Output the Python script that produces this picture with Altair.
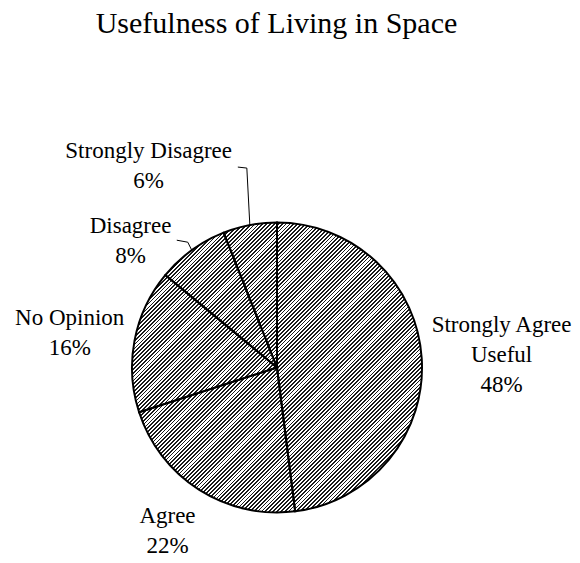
import altair as alt
import pandas as pd

# ---------------- data ----------------
TITLE = "Usefulness of Living in Space"
categories = ["Strongly Agree Useful", "Agree", "No Opinion", "Disagree", "Strongly Disagree"]
label_lines = [["Strongly Agree", "Useful"], ["Agree"], ["No Opinion"], ["Disagree"], ["Strongly Disagree"]]
percents = [48, 22, 16, 8, 6]

df = pd.DataFrame({
    "category": categories,
    "percent": percents,
    "order": list(range(len(categories))),
    "label": ["\n".join(lines + [f"{p}%"]) for lines, p in zip(label_lines, percents)],
})

# ---------------- layout / style ----------------
W, H, PAD_TOP = 564, 487, 60
CX, CY, R = 269, 299.5, 145
LABEL_R = 210
FONT = "Liberation Serif"
INK, PAPER = "#1a1a1a", "#ffffff"

# per-label nudges (dx, dy) from the mid-angle position (first line anchor)
LABEL_NUDGE = {
    "Strongly Agree Useful": (15, -29),
    "Agree": (3, -29),
    "No Opinion": (-1, -10),
    "Disagree": (-23, 28),
    "Strongly Disagree": (-89, -10),
}
# leader lines: (kink offset from slice edge, end offset from kink)
LEADERS = {
    "Disagree": ((-4, -8), (-11, -2)),
    "Strongly Disagree": ((-3, -57), (-9, -1)),
}

# hatch pattern as a striped linear gradient
N_STRIPES, DARK = 150, 0.45
stops = []
for i in range(N_STRIPES):
    a = round(i / N_STRIPES, 6)
    b = round((i + DARK) / N_STRIPES, 6)
    c = round((i + 1) / N_STRIPES, 6)
    stops += [
        alt.GradientStop(color=INK, offset=a),
        alt.GradientStop(color=INK, offset=b),
        alt.GradientStop(color=PAPER, offset=b),
        alt.GradientStop(color=PAPER, offset=c),
    ]
hatch = alt.LinearGradient(gradient="linear", stops=stops, x1=0, y1=0, x2=1, y2=1)

base = alt.Chart(df)
center = dict(x=alt.value(CX), y=alt.value(CY))

disc = base.transform_aggregate(total="sum(percent)").mark_arc(
    fill=hatch, outerRadius=R, strokeWidth=0
).encode(theta=alt.Theta("total:Q"), **center)

slices = base.mark_arc(
    outerRadius=R, fillOpacity=0, stroke="black", strokeWidth=2
).encode(
    theta=alt.Theta("percent:Q", stack=True),
    order=alt.Order("order:Q"),
    **center,
)

angles = base.transform_joinaggregate(total="sum(percent)").transform_window(
    cum="sum(percent)", sort=[alt.SortField("order")], frame=[None, 0]
).transform_calculate(
    mid="(datum.cum - datum.percent / 2) / datum.total * 2 * PI"
)

layers = [disc, slices]

for cat in categories:
    dx, dy = LABEL_NUDGE[cat]
    layers.append(
        angles.transform_filter(alt.datum.category == cat).mark_text(
            radius=LABEL_R, dx=dx, dy=dy, lineBreak="\n", font=FONT, fontSize=23,
            lineHeight=30, align="center", baseline="middle", color="black",
        ).encode(theta=alt.Theta("mid:Q", scale=None), text="label:N", **center)
    )

for cat, ((kdx, kdy), (edx, edy)) in LEADERS.items():
    pts = angles.transform_filter(alt.datum.category == cat).transform_calculate(
        ex=f"{CX} + {R} * sin(datum.mid)",
        ey=f"{CY} - {R} * cos(datum.mid)",
    ).transform_calculate(
        kx=f"datum.ex + ({kdx})", ky=f"datum.ey + ({kdy})",
    ).transform_calculate(
        hx=f"datum.kx + ({edx})", hy=f"datum.ky + ({edy})",
    )
    layers.append(pts.mark_rule(color="black", strokeWidth=1).encode(
        x=alt.X("ex:Q", scale=None), y=alt.Y("ey:Q", scale=None),
        x2="kx:Q", y2="ky:Q"))
    layers.append(pts.mark_rule(color="black", strokeWidth=1).encode(
        x=alt.X("kx:Q", scale=None), y=alt.Y("ky:Q", scale=None),
        x2="hx:Q", y2="hy:Q"))

chart = alt.layer(*layers).properties(
    width=W, height=H,
    padding={"top": PAD_TOP, "left": 0, "right": 0, "bottom": 0},
    autosize=alt.AutoSizeParams(type="none"),
    title=alt.TitleParams(
        TITLE, font=FONT, fontSize=30, fontWeight="normal", color="black",
        anchor="middle", frame="group", offset=29, dx=-13.5,
    ),
    background="white",
).configure_view(stroke=None)

chart.save("out.html", embed_options={"renderer": "svg", "actions": False})
